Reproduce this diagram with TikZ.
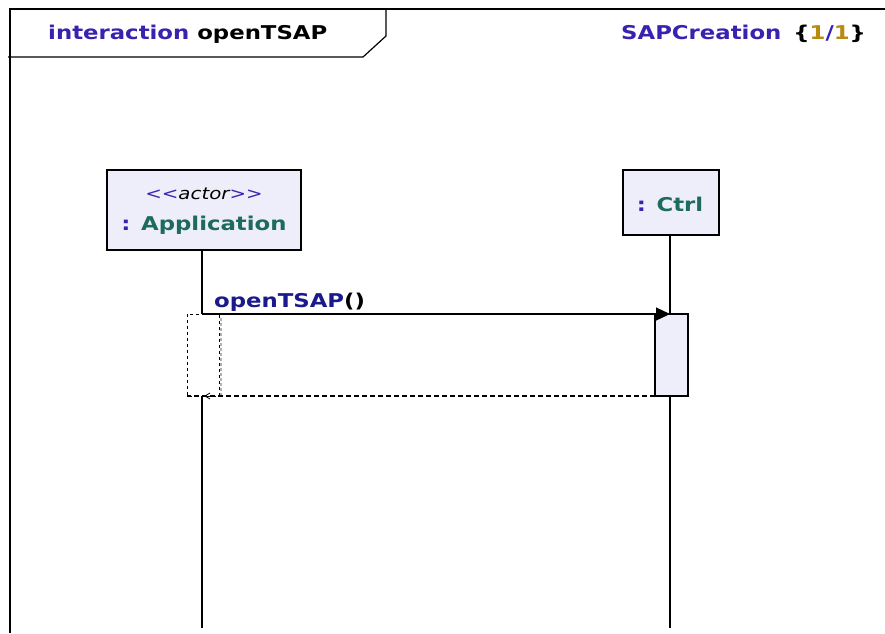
\documentclass[tikz,border=0pt]{standalone}
\usepackage{fontspec}
\setmainfont[FakeStretch=1.2]{DejaVu Sans}
\usetikzlibrary{arrows.meta,positioning}
\definecolor{kwblue}{HTML}{3A22B0}
\definecolor{teal}{HTML}{1D6B5E}
\definecolor{gold}{HTML}{B88A10}
\definecolor{boxfill}{HTML}{EEEEFA}
\definecolor{msgblue}{HTML}{1A1A8C}
\tikzset{
  x=1pt,y=-1pt,
  objbox/.style={draw=black,fill=boxfill,line width=1.3pt,inner sep=0pt},
  lifeline/.style={draw=black,line width=1.2pt},
  actbox/.style={draw=black,fill=boxfill,line width=1.3pt},
  ghost/.style={draw=black,dashed,dash pattern=on 3pt off 3pt,line width=0.9pt},
  retmsg/.style={draw=black,dash pattern=on 5pt off 3pt,line width=1.1pt},
  callmsg/.style={draw=black,line width=1.2pt,-{Triangle[length=14pt,width=13pt]}},
  lbl/.style={font=\fontsize{19}{22}\selectfont\bfseries,inner sep=0pt,anchor=base west},
}
\begin{document}
\begin{tikzpicture}
\useasboundingbox (0,0) rectangle (885,633);
\fill[white] (0,0) rectangle (885,633);
% frame
\draw[line width=1.2pt] (885,9) -- (10,9) -- (10,633);
\draw[line width=1.2pt] (8,57) -- (363,57) -- (386,36) -- (386,9);
\node[lbl] (title) at (48,39) {\textcolor{kwblue}{interaction} openTSAP};
\node[lbl] (sdname) at (621,39) {\textcolor{kwblue}{SAPCreation}\hspace{12pt}\{\textcolor{gold}{1}\textcolor{kwblue}{/}\textcolor{gold}{1}\}};
% objects
\path[objbox] (107,170) rectangle (301,250);
\node[font=\fontsize{16.5}{18}\selectfont\itshape,inner sep=0pt] (stereo) at (204,194) {\textcolor{kwblue}{<{}<}actor\textcolor{kwblue}{>{}>}};
\node[font=\fontsize{19}{22}\selectfont\bfseries,inner sep=0pt] (app) at (204,225) {\textcolor{kwblue}{:} \textcolor{teal}{Application}};
\path[objbox] (623,170) rectangle (719,235);
\node[font=\fontsize{19}{22}\selectfont\bfseries,inner sep=0pt] (ctrl) at (670,204) {\textcolor{kwblue}{:} \textcolor{teal}{Ctrl}};
\coordinate (appTop) at (202,250);
\coordinate (appBot) at (202,628);
\coordinate (ctrlTop) at (670,235);
\coordinate (ctrlBot) at (670,628);
\draw[lifeline] (appTop) -- (appBot);
\draw[lifeline] (ctrlTop) -- (ctrlBot);
% ghost activation on application
\fill[white] (187,314) rectangle (219,396);
\draw[gray!60,line width=2pt,dash pattern=on 3pt off 2pt] (221,318) -- (221,398);
\draw[ghost] (187,314) rectangle (219,396);
% activation on ctrl
\path[actbox] (655,314) rectangle (688,396);
\coordinate (callStart) at (202,314);
\coordinate (callEnd) at (670,314);
\draw[callmsg] (callStart) -- (callEnd);
\node[lbl] (msg) at (214,307) {\textcolor{msgblue}{openTSAP}()};
\coordinate (retStart) at (655,396);
\coordinate (retEnd) at (187,396);
\draw[retmsg] (retStart) -- (retEnd);
\draw[line width=0.8pt] (210,393) -- (205,396) -- (210,399);
\end{tikzpicture}
\end{document}
